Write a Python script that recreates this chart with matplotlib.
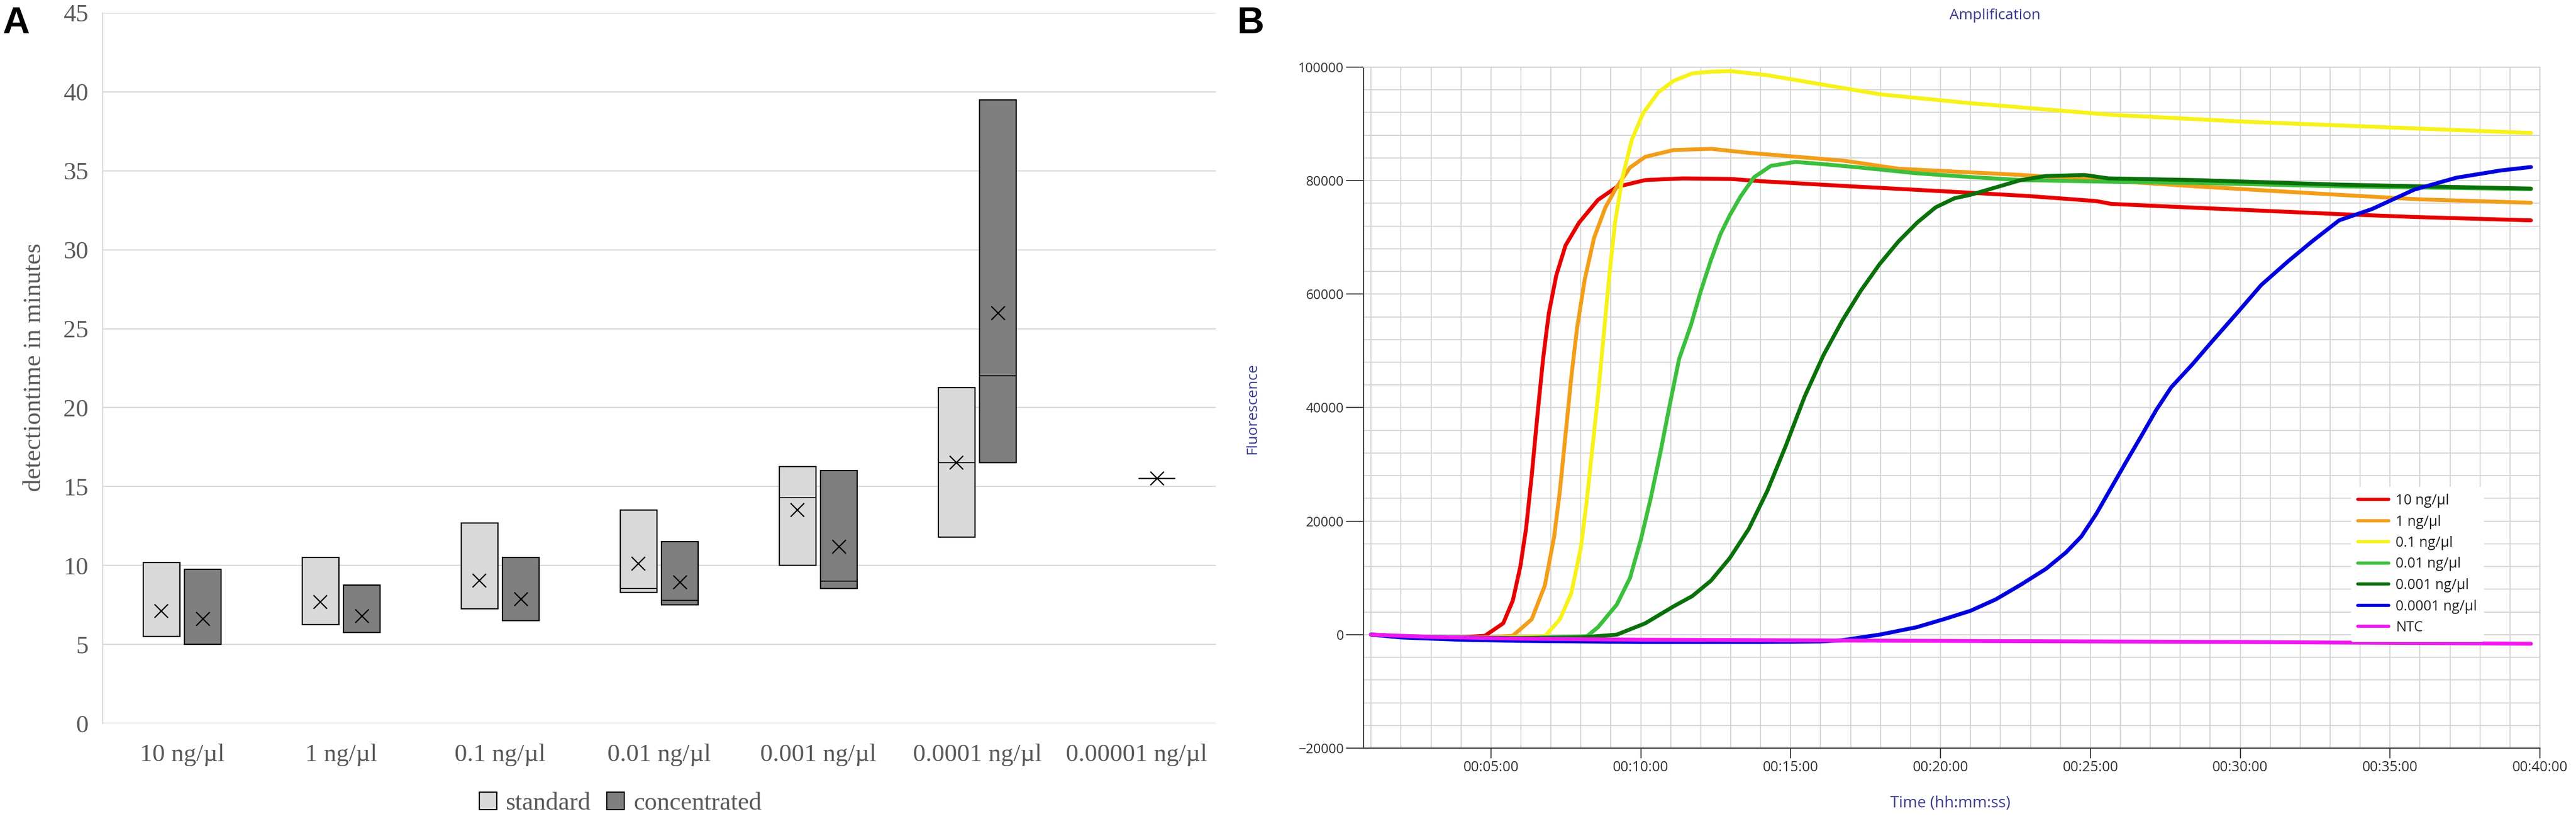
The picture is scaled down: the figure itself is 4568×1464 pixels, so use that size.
import numpy as np
import matplotlib
matplotlib.use("Agg")
import matplotlib.pyplot as plt
from matplotlib.patches import Patch
from matplotlib.ticker import MultipleLocator, FuncFormatter

# ---- Panel A: detection time boxes ----
categories = ['10 ng/µl', '1 ng/µl', '0.1 ng/µl', '0.01 ng/µl', '0.001 ng/µl', '0.0001 ng/µl', '0.00001 ng/µl']
std_low = [5.5, 6.25, 7.25, 8.3, 10.0, 11.8, np.nan]
std_high = [10.2, 10.5, 12.7, 13.5, 16.25, 21.25, np.nan]
std_median = [np.nan, np.nan, np.nan, 8.55, 14.3, 16.5, np.nan]
std_mean = [7.1, 7.7, 9.05, 10.1, 13.5, 16.5, np.nan]
conc_low = [5.0, 5.75, 6.5, 7.5, 8.55, 16.5, 15.5]
conc_high = [9.75, 8.75, 10.5, 11.5, 16.0, 39.5, 15.5]
conc_median = [np.nan, np.nan, np.nan, 7.8, 9.0, 22.0, np.nan]
conc_mean = [6.6, 6.8, 7.85, 8.95, 11.2, 26.0, 15.5]

# ---- Panel B: amplification curves (time in minutes, fluorescence) ----
t_10 = [1.0, 2.0, 3.0, 4.0, 4.8, 5.41, 5.73, 5.98, 6.17, 6.36, 6.55, 6.74, 6.93, 7.18, 7.49, 7.94,
        8.57, 9.2, 10.15, 11.4, 13.0, 14.0, 17.0, 20.2, 22.9, 25.2, 25.7, 28.6, 33.3, 35.8, 39.7]
f_10 = [0, -300, -500, -500, -200, 2000, 6000, 12000, 18600, 28000, 38600, 48600, 56600, 63300, 68600, 72600,
        76600, 78900, 80100, 80400, 80300, 79900, 79000, 78100, 77300, 76400, 75900, 75200, 74100, 73600, 73000]
t_1 = [1.0, 2.0, 3.5, 5.0, 5.73, 6.36, 6.8, 7.11, 7.3, 7.49, 7.68, 7.87, 8.13, 8.44, 8.82, 9.2, 9.64,
       10.15, 11.1, 12.35, 13.6, 16.8, 18.6, 22.7, 28.5, 33.3, 36.0, 39.7]
f_1 = [0, -300, -500, -500, -200, 2700, 8700, 17300, 25300, 35300, 45300, 53900, 62600, 69900, 75300, 78900, 82300,
       84200, 85400, 85600, 84900, 83500, 82100, 81000, 79000, 77500, 76700, 76100]
t_01 = [1.0, 2.0, 3.5, 5.0, 6.8, 7.3, 7.68, 8.0, 8.19, 8.38, 8.57, 8.76, 8.95, 9.14, 9.39, 9.7, 10.08,
        10.59, 11.1, 11.72, 12.35, 13.0, 14.2, 16.1, 18.0, 21.1, 25.7, 30.1, 34.4, 39.7]
f_01 = [0, -300, -500, -500, -300, 2700, 7300, 15300, 23300, 32600, 42000, 52600, 63300, 72600, 80600, 87200, 91900,
        95600, 97600, 98900, 99200, 99300, 98600, 96900, 95200, 93600, 91600, 90400, 89500, 88400]
t_001 = [1.0, 2.0, 4.0, 6.0, 8.2, 8.57, 9.2, 9.64, 10.0, 10.33, 10.65, 10.97, 11.28, 11.67, 12.0, 12.34,
         12.66, 12.97, 13.34, 13.78, 14.34, 15.16, 16.1, 17.34, 19.2, 21.1, 22.7, 25.7, 28.5, 33.3, 39.7]
f_001 = [0, -300, -500, -600, -300, 1300, 5300, 10000, 16700, 24000, 32000, 40600, 48600, 54500, 60500, 66000,
         70600, 73900, 77300, 80600, 82600, 83300, 82900, 82300, 81300, 80600, 80100, 79800, 79600, 79000, 78500]
t_0001 = [1.0, 2.0, 4.0, 6.0, 8.0, 9.2, 10.15, 11.1, 11.72, 12.34, 12.97, 13.6, 14.22, 14.84, 15.47, 16.1,
          16.72, 17.34, 17.97, 18.6, 19.22, 19.84, 20.47, 21.0, 21.84, 22.68, 23.5, 24.8, 25.6, 28.5, 33.3, 39.7]
f_0001 = [0, -300, -500, -600, -500, 0, 2000, 5000, 6800, 9500, 13500, 18600, 25300, 33300, 42000, 49300,
          55300, 60600, 65300, 69300, 72600, 75300, 76900, 77500, 78800, 80100, 80800, 81000, 80400, 80100, 79300, 78600]
t_00001 = [1.0, 2.0, 4.0, 6.0, 8.0, 10.0, 12.0, 14.0, 16.0, 16.7, 17.97, 19.2, 20.16, 21.0, 21.84, 22.68, 23.52,
           24.19, 24.7, 25.2, 25.7, 26.2, 26.7, 27.2, 27.7, 28.4, 29.05, 29.9, 30.7, 31.6, 32.4, 33.3, 34.4,
           35.8, 37.2, 38.7, 39.7]
f_00001 = [0, -500, -900, -1100, -1200, -1300, -1300, -1300, -1200, -1000, 0, 1300, 2800, 4200, 6200, 8800, 11600,
           14500, 17300, 21300, 25900, 30500, 35000, 39600, 43600, 47600, 51600, 56700, 61600, 65800, 69300, 73000, 75000,
           78400, 80500, 81800, 82400]
t_ntc = [1.0, 3.0, 6.0, 10.0, 15.0, 20.0, 25.0, 30.0, 35.0, 39.7]
f_ntc = [0, -400, -700, -900, -1000, -1100, -1200, -1300, -1450, -1600]

curve_labels = ['10 ng/µl', '1 ng/µl', '0.1 ng/µl', '0.01 ng/µl', '0.001 ng/µl', '0.0001 ng/µl', 'NTC']
curve_colors = ['#e60000', '#f29e1a', '#f7f21a', '#3cbf3c', '#0a700a', '#0000dc', '#ee18ee']

W, H = 4568, 1464
fig = plt.figure(figsize=(W / 100, H / 100), dpi=100)

# ================= A =================
serif = 'Liberation Serif'
grey_txt = '#595959'
axA = fig.add_axes([182 / W, 1 - 1282 / H, 1974 / W, 1259 / H])
x = np.arange(len(categories))
bw = 0.23
off = 0.13
axA.bar(x - off, np.array(std_high) - np.array(std_low), bottom=std_low, width=bw,
        color='#d9d9d9', edgecolor='black', linewidth=1.6, zorder=3)
axA.bar(x + off, np.array(conc_high) - np.array(conc_low), bottom=conc_low, width=bw,
        color='#7f7f7f', edgecolor='black', linewidth=1.6, zorder=3)
for xi, m in zip(x - off, std_median):
    if not np.isnan(m):
        axA.hlines(m, xi - bw / 2, xi + bw / 2, color='black', lw=1.2, zorder=4)
for xi, m in zip(x + off, conc_median):
    if not np.isnan(m):
        axA.hlines(m, xi - bw / 2, xi + bw / 2, color='black', lw=1.2, zorder=4)
axA.plot(x - off, std_mean, 'x', color='black', ms=17, mew=1.6, zorder=5)
axA.plot(x + off, conc_mean, 'x', color='black', ms=17, mew=1.6, zorder=5)

axA.set_xlim(-0.5, len(categories) - 0.5)
axA.set_ylim(0, 45)
axA.set_yticks(np.arange(0, 46, 5))
axA.set_xticks(x)
axA.set_xticklabels(categories)
axA.yaxis.grid(True, color='#d9d9d9', lw=1.5)
axA.set_axisbelow(True)
for s in ['top', 'right', 'bottom']:
    axA.spines[s].set_visible(False)
axA.spines['left'].set_color('#d9d9d9')
axA.spines['left'].set_linewidth(1.5)
axA.tick_params(length=0, labelsize=32, colors=grey_txt)
axA.tick_params(axis='x', pad=26)
axA.tick_params(axis='y', pad=18)
for lab in axA.get_xticklabels() + axA.get_yticklabels():
    lab.set_family(serif)
fig.text(61 / W, 1 - 651 / H, 'detectiontime in minutes', rotation=90, ha='center', va='center',
         fontsize=32, color=grey_txt, family=serif)
legA = fig.legend(handles=[Patch(fc='#d9d9d9', ec='black', lw=1.5), Patch(fc='#7f7f7f', ec='black', lw=1.5)],
                  labels=['standard', 'concentrated'], loc='center', bbox_to_anchor=(1100 / W, 1 - 1424 / H),
                  ncol=2, frameon=False, handlelength=0.7, handleheight=0.7, handletextpad=0.35,
                  columnspacing=0.65, prop={'family': serif, 'size': 32})
for t in legA.get_texts():
    t.set_color(grey_txt)

# ================= B =================
sans = 'Open Sans'
navy = '#3a3a8c'
axB = fig.add_axes([2418 / W, 1 - 1326 / H, 2086 / W, 1207 / H])
series = [(t_10, f_10), (t_1, f_1), (t_01, f_01), (t_001, f_001), (t_0001, f_0001), (t_00001, f_00001), (t_ntc, f_ntc)]
for (tt, ff), lab, col in zip(series, curve_labels, curve_colors):
    axB.plot(tt, ff, color=col, lw=5.0, label=lab, solid_capstyle='round', solid_joinstyle='round', zorder=3)

axB.set_xlim(0.75, 40)
axB.set_ylim(-20000, 100000)
axB.xaxis.set_major_locator(MultipleLocator(5))
axB.xaxis.set_minor_locator(MultipleLocator(1))
axB.yaxis.set_major_locator(MultipleLocator(20000))
axB.yaxis.set_minor_locator(MultipleLocator(4000))
axB.xaxis.set_major_formatter(FuncFormatter(lambda v, p: '00:%02d:00' % v))
axB.grid(True, which='both', color='#d6d6d6', lw=1.4)
axB.set_axisbelow(True)
for s in ['left', 'bottom']:
    axB.spines[s].set_color('#404040')
    axB.spines[s].set_linewidth(1.6)
for s in ['top', 'right']:
    axB.spines[s].set_color('#d0d0d0')
    axB.spines[s].set_linewidth(1.4)
axB.tick_params(which='minor', length=0)
axB.tick_params(axis='y', which='major', length=22, width=1.4, color='#404040', pad=3,
                labelsize=17, labelcolor='#333333')
axB.tick_params(axis='x', which='major', length=13, width=1.4, color='#404040', pad=3,
                labelsize=18, labelcolor='#333333')
for lab in axB.get_xticklabels() + axB.get_yticklabels():
    lab.set_family(sans)

legB = axB.legend(loc='upper left', bbox_to_anchor=((4156 - 2418) / 2086, (1326 - 850) / 1207),
                  frameon=True, facecolor='white', edgecolor='none', framealpha=1,
                  prop={'family': sans, 'size': 18}, handlelength=2.2, handletextpad=0.5,
                  labelspacing=0.5, borderpad=0.5)
for line in legB.get_lines():
    line.set_linewidth(4.0)
for t in legB.get_texts():
    t.set_color('#222222')

fig.text(3538 / W, 1 - 28 / H, 'Amplification', ha='center', va='center', fontsize=19, color=navy, family=sans)
fig.text(3459 / W, 1 - 1424 / H, 'Time (hh:mm:ss)', ha='center', va='center', fontsize=20, color=navy, family=sans)
fig.text(2221 / W, 1 - 724 / H, 'Fluorescence', rotation=90, ha='center', va='center', fontsize=19,
         color=navy, family=sans)

# panel letters
fig.text(4 / W, 1 - 11 / H, 'A', ha='left', va='top', fontsize=48, fontweight='bold', family='Liberation Sans')
fig.text(2194 / W, 1 - 11 / H, 'B', ha='left', va='top', fontsize=48, fontweight='bold', family='Liberation Sans')

fig.savefig('out.png', dpi=100, facecolor='white')
